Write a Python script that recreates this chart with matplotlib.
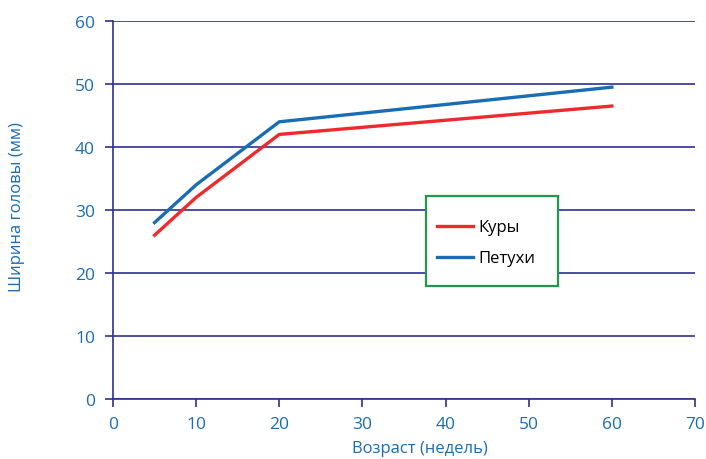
import matplotlib.pyplot as plt
from matplotlib.patches import Rectangle

plt.rcParams['font.family'] = ['Open Sans', 'DejaVu Sans']

# data
weeks = [5, 10, 20, 60]
hens = [26, 32, 42, 46.5]
roosters = [28, 34, 44, 49.5]

grid_col = '#2e3192'
text_col = '#1b6cb0'

fig = plt.figure(figsize=(7.06, 4.6), dpi=100)
ax = fig.add_axes([113/706, 60/460, 582/706, 378/460])

ax.plot(weeks, hens, color='#ee2a2e', lw=2.4, label='Куры')
ax.plot(weeks, roosters, color='#1a6db3', lw=2.4, label='Петухи')

ax.set_xlim(0, 70)
ax.set_ylim(0, 60)
ax.set_xticks(range(0, 71, 10))
ax.set_yticks(range(0, 61, 10))
ax.yaxis.grid(True, color=grid_col, lw=1.2)
ax.set_axisbelow(True)

for s in ['top', 'right']:
    ax.spines[s].set_visible(False)
for s in ['left', 'bottom']:
    ax.spines[s].set_color(grid_col)
    ax.spines[s].set_linewidth(1.2)

ax.tick_params(axis='both', colors=grid_col, labelcolor=text_col, labelsize=12.5,
               length=6, width=1.2)
ax.tick_params(axis='y', pad=7)
ax.tick_params(axis='x', pad=6)

ax.set_ylabel('Ширина головы (мм)', color=text_col, fontsize=12)
ax.set_xlabel('Возраст (недель)', color=text_col, fontsize=12)
ax.yaxis.set_label_coords(-0.151, 0.51)
ax.xaxis.set_label_coords(0.527, -0.108)

# legend box drawn separately so its padding can match the reference
box = Rectangle((0.538, 0.299), 0.227, 0.238, transform=ax.transAxes,
                facecolor='white', edgecolor='#1e9a4c', lw=1.6, zorder=4)
ax.add_patch(box)
leg = ax.legend(loc='center left', bbox_to_anchor=(0.557, 0.413), fontsize=12,
                frameon=False, handlelength=2.15, handletextpad=0.3,
                labelspacing=0.9, borderpad=0, borderaxespad=0)
leg.set_zorder(5)

fig.savefig('out.png', dpi=100)
